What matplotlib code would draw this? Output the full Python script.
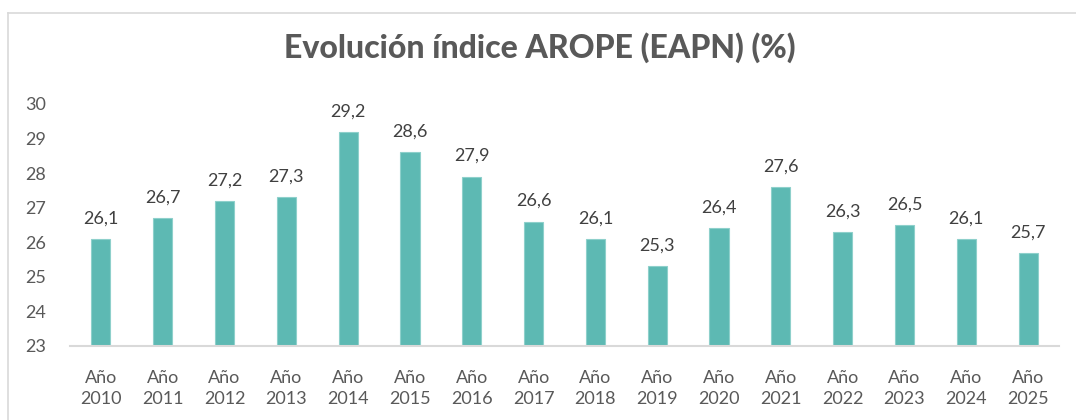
import matplotlib
matplotlib.use("Agg")
import matplotlib.pyplot as plt
from matplotlib.lines import Line2D

years = ["2010", "2011", "2012", "2013", "2014", "2015", "2016", "2017",
         "2018", "2019", "2020", "2021", "2022", "2023", "2024", "2025"]
arope = [26.1, 26.7, 27.2, 27.3, 29.2, 28.6, 27.9, 26.6,
         26.1, 25.3, 26.4, 27.6, 26.3, 26.5, 26.1, 25.7]
labels = ["Año\n" + y for y in years]

W, H = 1076, 420
fig = plt.figure(figsize=(W / 100, H / 100), dpi=100)
ax = fig.add_axes([70 / W, 1 - 346 / H, (1059 - 70) / W, (346 - 104) / H])

x = range(len(years))
ax.bar(x, [v - 23 for v in arope], bottom=23, width=0.31,
       color="#5DB9B3", edgecolor="#8ED0CB", linewidth=0.8, zorder=2)

for i, v in zip(x, arope):
    ax.annotate(f"{v:.1f}".replace(".", ","), (i, v), xytext=(0, 9),
                textcoords="offset points", ha="center", va="bottom",
                fontsize=13, color="#404040", family="Lato")

ax.set_xlim(-0.5, len(years) - 0.5)
ax.set_ylim(23, 30)
ax.set_yticks(range(23, 31))
ax.set_xticks(list(x))
ax.set_xticklabels(labels, linespacing=1.4)
ax.tick_params(axis="both", length=0, labelsize=13, labelcolor="#595959")
ax.tick_params(axis="y", pad=17)
ax.tick_params(axis="x", pad=17)
for lab in ax.get_xticklabels() + ax.get_yticklabels():
    lab.set_family("Lato")

for s in ["top", "right", "left"]:
    ax.spines[s].set_visible(False)
ax.spines["bottom"].set_color("#D9D9D9")
ax.spines["bottom"].set_linewidth(1.5)

fig.text(540 / W, 1 - 48 / H, "Evolución índice AROPE (EAPN) (%)",
         ha="center", va="center", fontsize=23, fontweight="black",
         color="#595959", family="Lato")

# chart frame (cropped on right and bottom)
fig.add_artist(Line2D([8 / W, 8 / W], [0, 1 - 13 / H], transform=fig.transFigure,
                      color="#D9D9D9", linewidth=1.2))
fig.add_artist(Line2D([8 / W, 1], [1 - 13 / H, 1 - 13 / H], transform=fig.transFigure,
                      color="#D9D9D9", linewidth=1.2))

fig.savefig("out.png", dpi=100)
